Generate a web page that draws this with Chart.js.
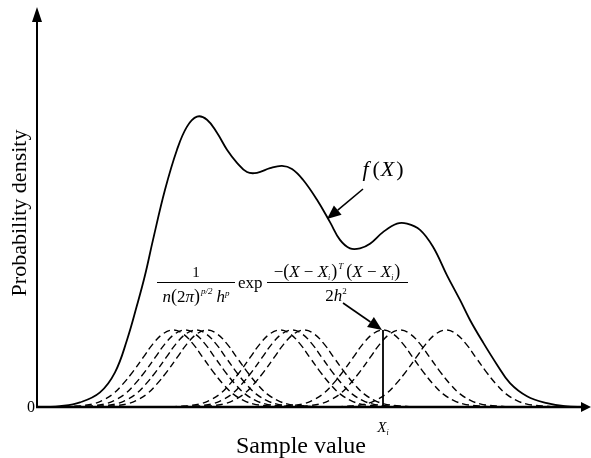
<!DOCTYPE html>
<html>
<head>
<meta charset="utf-8">
<script src="https://cdn.jsdelivr.net/npm/chart.js@4.4.1/dist/chart.umd.min.js"></script>
<style>
  html, body { margin: 0; padding: 0; background: #fff; }
  #wrap { width: 591px; height: 458px; }
</style>
</head>
<body>
<div id="wrap"><canvas id="kdeChart" width="591" height="458"></canvas></div>
<script>
"use strict";

/*---------------------------------------------------
  Data (x = sample value, y = density, kernel peak = 1)
---------------------------------------------------*/
var solidX = [8, 23, 43, 63, 78, 90, 100, 108, 116, 128, 140, 150, 160, 170, 180, 190, 200, 210, 220,
              233, 245, 255, 266, 280, 293, 303, 313, 323, 333, 346, 360, 370, 383, 396, 410, 423,
              433, 446, 460, 473, 490, 510, 528, 548];
var solidY = [0, 0.01, 0.06, 0.19, 0.45, 0.87, 1.32, 1.71, 2.17, 2.82, 3.34, 3.64, 3.77, 3.73, 3.56, 3.34,
              3.17, 3.05, 3.04, 3.10, 3.13, 3.09, 2.95, 2.69, 2.40, 2.17, 2.06, 2.06, 2.12, 2.27, 2.38,
              2.38, 2.30, 2.08, 1.71, 1.39, 1.13, 0.84, 0.55, 0.31, 0.14, 0.05, 0.01, 0];

// one kernel bump, read from the X_i kernel
var kernelOffsets = [-110, -100, -90, -80, -70, -60, -50, -40, -30, -20, -10, 0,
                     10, 20, 30, 40, 50, 60, 70, 80, 90, 100, 110];
var kernelShape = [0.00, 0.01, 0.02, 0.04, 0.09, 0.17, 0.30, 0.46, 0.64, 0.82, 0.95, 1.00,
                   0.95, 0.82, 0.64, 0.46, 0.30, 0.17, 0.09, 0.04, 0.02, 0.01, 0.00];
var kernelCenters = [136, 148, 159, 170, 243, 255, 267, 346, 363, 409];
var markedKernel = 7; // the X_i kernel

var xMin = 0, xMax = 553;
var yMin = 0, yMax = 5.18;

/*---------------------------------------------------
  Datasets
---------------------------------------------------*/
var datasets = [];

datasets.push({
    label: "f(X)",
    data: solidX.map(function (x, i) { return { x: x, y: solidY[i] }; }),
    borderColor: "#000",
    borderWidth: 1.8,
    pointRadius: 0,
    fill: false,
    tension: 0.4
});

kernelCenters.forEach(function (c) {
    datasets.push({
        label: "kernel",
        data: kernelOffsets.map(function (o, i) { return { x: c + o, y: kernelShape[i] }; }),
        borderColor: "#000",
        borderWidth: 1.4,
        borderDash: [7, 4],
        pointRadius: 0,
        fill: false,
        tension: 0.4
    });
});

/*---------------------------------------------------
  Drawing helpers
---------------------------------------------------*/
var SERIF = "'Liberation Serif', 'DejaVu Serif', serif";

function fontOf(seg) {
    return (seg[1] === "i" ? "italic " : "") + seg[2] + "px " + SERIF;
}

function richWidth(ctx, segs) {
    var w = 0;
    segs.forEach(function (s) {
        ctx.font = fontOf(s);
        w += ctx.measureText(s[0]).width + (s[4] || 0);
    });
    return w;
}

// segs: [text, style, size, dy, extra gap]
function drawRich(ctx, segs, x, y, align) {
    var w = richWidth(ctx, segs);
    var cx = align === "center" ? x - w / 2 : x;
    ctx.textAlign = "left";
    ctx.textBaseline = "alphabetic";
    segs.forEach(function (s) {
        ctx.font = fontOf(s);
        ctx.fillText(s[0], cx, y + (s[3] || 0));
        cx += ctx.measureText(s[0]).width + (s[4] || 0);
    });
}

function arrow(ctx, x1, y1, x2, y2, len, half, lw) {
    var a = Math.atan2(y2 - y1, x2 - x1);
    var bx = x2 - len * Math.cos(a), by = y2 - len * Math.sin(a);
    ctx.lineWidth = lw;
    ctx.beginPath();
    ctx.moveTo(x1, y1);
    ctx.lineTo(bx, by);
    ctx.stroke();
    ctx.beginPath();
    ctx.moveTo(x2, y2);
    ctx.lineTo(bx + half * Math.sin(a), by - half * Math.cos(a));
    ctx.lineTo(bx - half * Math.sin(a), by + half * Math.cos(a));
    ctx.closePath();
    ctx.fill();
}

/*---------------------------------------------------
  Axes, labels and annotations
---------------------------------------------------*/
var annotate = {
    id: "annotate",
    afterDatasetsDraw: function (chart) {
        var ctx = chart.ctx;
        var xs = chart.scales.x, ys = chart.scales.y;
        var x0 = xs.getPixelForValue(xMin), y0 = ys.getPixelForValue(0);
        ctx.save();
        ctx.fillStyle = "#000";
        ctx.strokeStyle = "#000";

        // axes with arrowheads
        arrow(ctx, x0, y0 + 1, x0, ys.top - 1, 15, 5, 2);
        arrow(ctx, x0 - 1, y0, xs.right + 1, y0, 10, 5, 2.6);

        // vertical line at X_i
        var xi = xs.getPixelForValue(kernelCenters[markedKernel]);
        var yPeak = ys.getPixelForValue(1);
        ctx.lineWidth = 1.8;
        ctx.beginPath();
        ctx.moveTo(xi, y0);
        ctx.lineTo(xi, yPeak);
        ctx.stroke();

        // axis texts
        ctx.font = "16px " + SERIF;
        ctx.textAlign = "right";
        ctx.textBaseline = "middle";
        ctx.fillText("0", x0 - 2, y0 + 1);

        ctx.save();
        ctx.translate(26, 213);
        ctx.rotate(-Math.PI / 2);
        ctx.font = "22px " + SERIF;
        ctx.textAlign = "center";
        ctx.textBaseline = "alphabetic";
        ctx.fillText("Probability density", 0, 0);
        ctx.restore();

        ctx.font = "24px " + SERIF;
        ctx.textAlign = "center";
        ctx.textBaseline = "alphabetic";
        ctx.fillText("Sample value", 301, 453);

        drawRich(ctx, [["X", "i", 15, 0], ["i", "i", 8, 3]], xi, 432, "center");

        // f(X) label and arrow
        drawRich(ctx, [["f", "i", 22, 0, 4], ["(", "", 22, 0, 1], ["X", "i", 22, 0, 2], [")", "", 22, 0]], 383, 176, "center");
        arrow(ctx, 363, 189, 327, 219, 14, 6, 1.6);

        // kernel formula
        var frac1 = 196, bar = 282.5;
        drawRich(ctx, [["1", "", 15, 0]], frac1, 277, "center");
        drawRich(ctx, [["n", "i", 17, 0], ["(", "", 18, 0], ["2", "", 17, 0], ["π", "i", 17, 0], [")", "", 18, 0, 1],
                       ["p/2", "i", 9, -8, 4], ["h", "i", 17, 0], ["p", "i", 9, -6]], frac1, 302, "center");
        ctx.lineWidth = 1;
        ctx.beginPath();
        ctx.moveTo(157, bar);
        ctx.lineTo(235, bar);
        ctx.moveTo(267, bar);
        ctx.lineTo(408, bar);
        ctx.stroke();
        drawRich(ctx, [["exp", "", 17, 0]], 238, 288, "left");
        drawRich(ctx, [["−", "", 17, 0], ["(", "", 18, 0], ["X", "i", 17, 0], [" − ", "", 17, 0], ["X", "i", 17, 0],
                       ["i", "i", 8, 3, 1], [")", "", 18, 0, 1], ["T", "i", 9, -8, 3], ["(", "", 18, 0], ["X", "i", 17, 0],
                       [" − ", "", 17, 0], ["X", "i", 17, 0], ["i", "i", 8, 3, 1], [")", "", 18, 0]], 337, 277, "center");
        drawRich(ctx, [["2", "", 17, 0], ["h", "i", 17, 0], ["2", "", 9, -7]], 336, 301, "center");

        // formula arrow to X_i kernel
        arrow(ctx, 343, 303, xi - 1, yPeak, 14, 6, 1.6);

        ctx.restore();
    }
};

/*---------------------------------------------------
  Chart
---------------------------------------------------*/
var ctx = document.getElementById("kdeChart");
var kdeChart = new Chart(ctx, {
    type: "line",
    data: { datasets: datasets },
    options: {
        responsive: false,
        devicePixelRatio: 1,
        animation: false,
        layout: { padding: { left: 37, right: 1, top: 8, bottom: 51 } },
        scales: {
            x: { type: "linear", min: xMin, max: xMax, display: false },
            y: { type: "linear", min: yMin, max: yMax, display: false }
        },
        plugins: {
            legend: { display: false },
            tooltip: { enabled: false }
        }
    },
    plugins: [annotate]
});
</script>
</body>
</html>
